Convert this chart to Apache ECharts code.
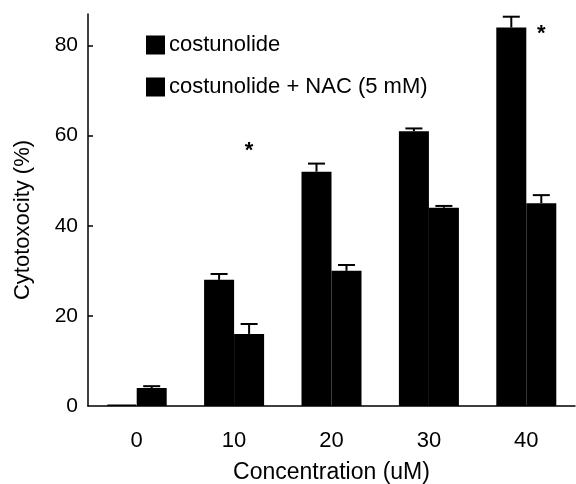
<!DOCTYPE html>
<html>
<head>
<meta charset="utf-8">
<script src="https://cdn.jsdelivr.net/npm/echarts@6/dist/echarts.min.js"></script>
<style>
html, body { margin: 0; padding: 0; background: #fff; }
#container { width: 576px; height: 484px; }
</style>
</head>
<body>
<div id="container"></div>
<script>
var categories = ['0', '10', '20', '30', '40'];
var costunolide = [0.3, 28, 52, 61, 84];
var costunolideErr = [0, 1.3, 1.8, 0.6, 2.4];
var withNac = [4, 16, 30, 44, 45];
var withNacErr = [0.4, 2.2, 1.3, 0.4, 1.8];
var stars = [[1, 56.5], [4, 82.5]];

var dom = document.getElementById('container');
var myChart = echarts.init(dom);
var FONT = 'Liberation Sans, Arial, sans-serif';
var BAR_W = 30;

function errData(vals, errs) {
    var out = [];
    for (var i = 0; i < vals.length; i++) {
        if (errs[i] > 0) out.push([i, vals[i], errs[i]]);
    }
    return out;
}

// error bar: stem from bar top up to value + err, with a cap
function errorBar(offset) {
    return function (params, api) {
        var top = api.coord([api.value(0), api.value(1) + api.value(2)]);
        var base = api.coord([api.value(0), api.value(1)]);
        var x = top[0] + offset;
        var style = { stroke: '#000', lineWidth: 2 };
        return {
            type: 'group',
            children: [
                { type: 'line', shape: { x1: x, y1: base[1], x2: x, y2: top[1] }, style: style },
                { type: 'line', shape: { x1: x - 8.5, y1: top[1], x2: x + 8.5, y2: top[1] }, style: style }
            ]
        };
    };
}

var option = {
    animation: false,
    backgroundColor: '#fff',
    textStyle: { fontFamily: FONT },
    grid: { left: 88, right: 1, top: 14, bottom: 78, outerBoundsMode: 'none' },
    legend: {
        orient: 'vertical',
        left: 141,
        top: 29,
        itemGap: 20,
        itemWidth: 17,
        itemHeight: 17,
        icon: 'rect',
        data: ['costunolide', 'costunolide + NAC (5 mM)'],
        textStyle: { fontSize: 22, color: '#000', fontFamily: FONT }
    },
    xAxis: {
        type: 'category',
        data: categories,
        name: 'Concentration (uM)',
        nameLocation: 'middle',
        nameGap: 55,
        nameTextStyle: { fontSize: 23, color: '#000' },
        axisLine: { lineStyle: { color: '#000', width: 1.5 } },
        axisTick: { inside: true, length: 6, lineStyle: { color: '#000', width: 1.5 } },
        axisLabel: { fontSize: 22, color: '#000', margin: 24 }
    },
    yAxis: {
        type: 'value',
        min: 0,
        max: 87,
        interval: 20,
        name: 'Cytotoxocity (%)',
        nameLocation: 'middle',
        nameGap: 54,
        nameTextStyle: { fontSize: 22, color: '#000', padding: [0, 20, 0, 0] },
        splitLine: { show: false },
        axisLine: { show: true, lineStyle: { color: '#000', width: 1.5 } },
        axisTick: { show: true, inside: true, length: 5, customValues: [20, 40, 60, 80], lineStyle: { color: '#000', width: 1.5 } },
        axisLabel: { fontSize: 21, color: '#000', margin: 10, customValues: [0, 20, 40, 60, 80] }
    },
    series: [
        {
            name: 'costunolide',
            type: 'bar',
            data: costunolide,
            barWidth: BAR_W,
            barGap: '0%',
            itemStyle: { color: '#000', borderColor: '#000', borderWidth: 1.5 }
        },
        {
            name: 'costunolide + NAC (5 mM)',
            type: 'bar',
            data: withNac,
            barWidth: BAR_W,
            barGap: '0%',
            itemStyle: { color: '#000', borderColor: '#000', borderWidth: 1.5 }
        },
        {
            type: 'custom',
            name: 'err1',
            renderItem: errorBar(-BAR_W / 2),
            data: errData(costunolide, costunolideErr),
            encode: { x: 0, y: 1 },
            z: 3
        },
        {
            type: 'custom',
            name: 'err2',
            renderItem: errorBar(BAR_W / 2),
            data: errData(withNac, withNacErr),
            encode: { x: 0, y: 1 },
            z: 3
        },
        {
            type: 'custom',
            name: 'stars',
            data: stars,
            encode: { x: 0, y: 1 },
            renderItem: function (params, api) {
                var p = api.coord([api.value(0), api.value(1)]);
                return {
                    type: 'text',
                    x: p[0] + BAR_W / 2,
                    y: p[1],
                    style: { text: '*', fontSize: 22, fontWeight: 'bold', fill: '#000', align: 'center', verticalAlign: 'middle', fontFamily: FONT }
                };
            }
        }
    ]
};

myChart.setOption(option);
</script>
</body>
</html>
